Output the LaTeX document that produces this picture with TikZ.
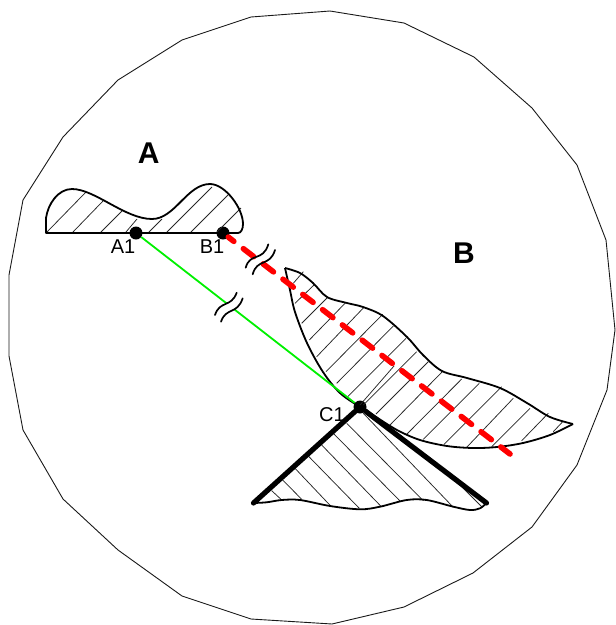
\documentclass[tikz,border=0pt]{standalone}
\usepackage{fontspec}
\setmainfont{Liberation Sans}
\definecolor{cutgreen}{HTML}{00F000}
\definecolor{cutred}{HTML}{FF0000}
\tikzset{
  outline/.style={line width=0.9pt,black!90},
  blob/.style={line width=1.8pt,line join=round},
  hatch/.style={line width=0.75pt,black!85},
  dot/.style={circle,fill=black,inner sep=0pt,minimum size=13pt},
  edge/.style={line width=5.2pt,line cap=round},
  greenline/.style={line width=1.8pt,cutgreen},
  redline/.style={line width=5.6pt,cutred,line cap=round,dash pattern=on 13pt off 12pt,dash phase=6pt},
  breakmark/.style={line width=1.7pt,line cap=round},
  region/.style={font=\fontsize{30}{30}\selectfont\bfseries,inner sep=0pt},
  pointname/.style={font=\fontsize{20}{20}\selectfont,inner sep=0pt}
}
\begin{document}
\begin{tikzpicture}[x=1pt,y=-1pt]
  \useasboundingbox (0,0) rectangle (616,625);
  \draw[outline] (330,11) -- (404,23) -- (474,57) -- (532,108) -- (577,165) -- (606,240) -- (615,330) -- (607,390)
    -- (577,465) -- (532,527) -- (473,573) -- (404,607) -- (332,624) -- (251,619) -- (182,596) -- (118,550)
    -- (63,499) -- (23,430) -- (9,356) -- (9,275) -- (23,200) -- (63,137) -- (118,80) -- (182,40) -- (251,17) -- cycle;

  \node[dot] (a1) at (136,233) {};
  \node[dot] (b1) at (223,233) {};
  \node[dot] (c1) at (360,407) {};
  \coordinate (redend) at (510,454);
  \coordinate (lefttip) at (253.5,503);
  \coordinate (righttip) at (486.5,503);

  % upper body A
  \foreach \xa/\ya/\xb/\yb in {47/232/86/192, 73/232/103/201, 101/232/122/211, 126/232/137/219, 149/232/162/219,
    167/232/212/187, 191/232/229/194, 217/232/241/208}
    \draw[hatch] (\xa,\ya) -- (\xb,\yb);
  \draw[blob] (238,233) -- (46,233) -- (46,218)
    .. controls (48,204) and (58,189) .. (72,189)
    .. controls (95,189) and (125,219) .. (152,219)
    .. controls (175,219) and (187,184) .. (210,184)
    .. controls (225,184) and (243,208) .. (243,224)
    .. controls (243,229) and (241,233) .. (238,233);

  % body B
  \foreach \xa/\ya/\xb/\yb in {293.3/283.3/303.3/271.7, 295/303.3/314/285, 301.7/323.3/327.3/297.7, 309.3/340/346/302.3,
    316.7/356.7/364/307.3, 326/371.7/382.7/314.3, 336.7/383.3/393.3/326, 347.7/396.7/406/338.3, 363.3/405/416.7/351.7,
    360/405/394/366, 376/414/428.3/361.7, 390/425/442.3/371.7, 406.7/434.3/461.7/379, 423.3/439.3/479.3/383.3,
    444/444.3/501.7/386.7, 466.7/447.3/513.3/398.3, 491.7/446.7/530/408.3, 521.7/440.7/548.3/413.3, 553.3/431.7/562.7/421.7}
    \draw[hatch] (\xa,\ya) -- (\xb,\yb);
  \draw[blob] plot[smooth,tension=0.55] coordinates {(285,268) (300,273) (313,283) (327,297) (347,303) (363,307) (383,316)
    (407,337) (423,355) (442,371) (467,378) (500,388) (527,403) (550,417) (573,424)};
  \draw[blob] plot[smooth,tension=0.55] coordinates {(573,424) (550,435) (523,443) (497,447) (473,448) (447,446) (420,440)
    (397,430) (373,415) (360,407) (340,393) (323,372) (307,343) (295,312) (290,290) (285,268)};

  % lower body C
  \foreach \xa/\ya/\xb/\yb in {271.7/490.7/281/499.3, 282.7/480/301.7/499.3, 295/468.3/330.7/506, 308.3/456/359.3/508.3,
    321/444.3/380.7/506, 333.3/433.3/400.7/501.7, 346.7/423.3/423.3/500.7, 363.3/413.3/453.3/507.3, 456.7/481.7/481.7/506.7}
    \draw[hatch] (\xa,\ya) -- (\xb,\yb);
  \draw[blob] plot[smooth,tension=0.55] coordinates {(253.5,503) (266.7,502.3) (281.7,500) (300,500) (330,506) (360,509.3)
    (380,506.7) (406.7,500) (426.7,500) (453.3,506.7) (470,510) (480,508.3) (486.5,503)};
  \draw[edge] (c1) -- (lefttip);
  \draw[edge] (c1) -- (righttip);

  \draw[greenline] (a1) -- (c1);
  \draw[redline] (b1) -- (redend);

  % break marks
  \fill[white] (215,315) .. controls (220,300) and (231,308) .. (236.7,292.7) -- (242.7,298.3)
    .. controls (237,315) and (226,307) .. (221,321.7) -- cycle;
  \draw[breakmark] (215,315) .. controls (220,300) and (231,308) .. (236.7,292.7);
  \draw[breakmark] (221,321.7) .. controls (226,307) and (237,315) .. (242.7,298.3);
  \draw[breakmark] (245.7,267.7) .. controls (250,252) and (263,262) .. (268.3,244.3);
  \draw[breakmark] (252.7,274.3) .. controls (257,258) and (270,267) .. (275,250);

  \node[region] (labela) at (148.7,153) {A};
  \node[region] (labelb) at (464,253) {B};
  \node[pointname] (labela1) at (123,247) {A1};
  \node[pointname] (labelb1) at (212,247) {B1};
  \node[pointname] (labelc1) at (332,414.5) {C1};
\end{tikzpicture}
\end{document}
